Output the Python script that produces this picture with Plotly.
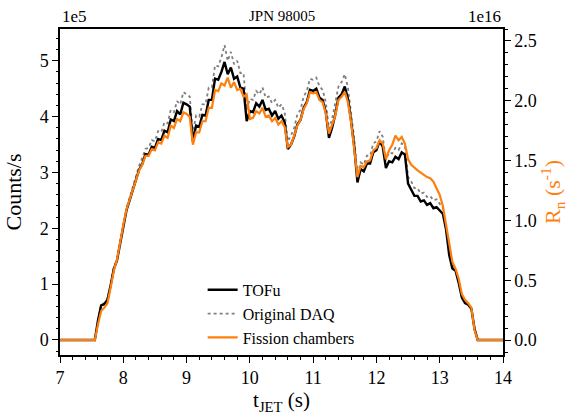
import plotly.graph_objects as go

# time grid (s): 7.55 .. 13.65 every 0.05 s, plus flat ends
t_active = [round(7.55 + 0.05 * i, 2) for i in range(123)]
time = [7.0] + t_active + [14.0]

# TOFu counts (x1e5 counts/s)
tofu = [
    0.00, 0.35, 0.62, 0.64, 0.72, 0.98, 1.27, 1.42, 1.74, 2.02,
    2.32, 2.50, 2.68, 2.83, 3.05, 3.15, 3.33, 3.32, 3.46, 3.44,
    3.60, 3.58, 3.75, 3.72, 3.95, 3.92, 4.10, 4.04, 4.25, 4.22,
    4.18, 3.55, 3.84, 3.82, 4.03, 4.02, 4.30, 4.30, 4.68, 4.66,
    4.80, 4.98, 4.76, 4.88, 4.68, 4.72, 4.52, 4.50, 3.92, 4.10,
    4.08, 4.24, 4.18, 4.30, 4.12, 4.14, 4.02, 4.10, 3.96, 4.02,
    3.90, 3.42, 3.50, 3.64, 3.86, 3.94, 4.16, 4.26, 4.48, 4.46,
    4.50, 4.34, 4.30, 4.08, 3.62, 3.80, 4.04, 4.34, 4.40, 4.54,
    4.32, 3.92, 3.46, 2.82, 3.06, 3.02, 3.16, 3.16, 3.36, 3.40,
    3.56, 3.46, 3.08, 3.20, 3.18, 3.28, 3.24, 3.36, 3.32, 2.80,
    2.70, 2.58, 2.58, 2.48, 2.50, 2.42, 2.45, 2.36, 2.38, 2.31,
    2.26, 1.98, 1.52, 1.28, 1.24, 1.02, 0.76, 0.66, 0.63, 0.56,
    0.20, 0.00, 0.00,
]

# Original DAQ counts (x1e5 counts/s)
daq = [
    0.00, 0.36, 0.63, 0.66, 0.74, 1.00, 1.30, 1.45, 1.78, 2.06,
    2.36, 2.56, 2.74, 2.92, 3.12, 3.26, 3.42, 3.44, 3.58, 3.56,
    3.74, 3.72, 3.90, 3.88, 4.12, 4.08, 4.28, 4.22, 4.44, 4.40,
    4.36, 3.70, 4.02, 4.00, 4.22, 4.22, 4.52, 4.52, 4.92, 4.90,
    5.06, 5.28, 5.00, 5.16, 4.94, 5.00, 4.78, 4.78, 4.12, 4.32,
    4.30, 4.46, 4.40, 4.52, 4.34, 4.36, 4.24, 4.30, 4.16, 4.22,
    4.08, 3.56, 3.66, 3.80, 4.04, 4.12, 4.36, 4.46, 4.68, 4.66,
    4.70, 4.54, 4.48, 4.26, 3.78, 3.96, 4.22, 4.54, 4.62, 4.76,
    4.52, 4.08, 3.60, 2.94, 3.18, 3.14, 3.30, 3.30, 3.52, 3.56,
    3.74, 3.64, 3.22, 3.36, 3.34, 3.44, 3.40, 3.52, 3.48, 2.92,
    2.84, 2.72, 2.72, 2.62, 2.64, 2.56, 2.58, 2.50, 2.52, 2.44,
    2.36, 2.04, 1.56, 1.32, 1.27, 1.05, 0.78, 0.68, 0.64, 0.57,
    0.21, 0.00, 0.00,
]

# Fission chambers neutron rate R_n (x1e16 s^-1)
fission = [
    0.000, 0.131, 0.243, 0.271, 0.308, 0.439, 0.579, 0.672, 0.831, 0.961,
    1.092, 1.176, 1.260, 1.325, 1.418, 1.465, 1.540, 1.540, 1.596, 1.586,
    1.652, 1.642, 1.708, 1.689, 1.792, 1.773, 1.848, 1.829, 1.904, 1.890,
    1.866, 1.633, 1.736, 1.736, 1.829, 1.829, 1.941, 1.941, 2.090, 2.081,
    2.146, 2.128, 2.193, 2.109, 2.156, 2.090, 2.100, 2.034, 2.053, 1.848,
    1.857, 1.913, 1.894, 1.941, 1.866, 1.876, 1.829, 1.857, 1.801, 1.829,
    1.782, 1.614, 1.633, 1.708, 1.792, 1.838, 1.932, 1.978, 2.072, 2.062,
    2.072, 2.006, 1.988, 1.894, 1.726, 1.801, 1.876, 2.006, 2.034, 2.072,
    1.988, 1.820, 1.586, 1.362, 1.456, 1.446, 1.493, 1.502, 1.586, 1.605,
    1.670, 1.642, 1.512, 1.586, 1.633, 1.708, 1.670, 1.698, 1.642, 1.512,
    1.465, 1.437, 1.418, 1.400, 1.381, 1.362, 1.353, 1.325, 1.269, 1.213,
    1.120, 0.961, 0.793, 0.653, 0.597, 0.513, 0.383, 0.336, 0.308, 0.271,
    0.084, 0.000, 0.000,
]

tofu_y = [0.0] + tofu + [0.0]
daq_y = [0.0] + daq + [0.0]
fission_y = [0.0] + fission + [0.0]

FONT = "Liberation Serif"
ORANGE = "#ff7f0e"
X_RANGE = [7, 14]
Y_RANGE = [-0.27, 5.57]
Y2_RANGE = [-0.125, 2.6]

fig = go.Figure()
fig.add_trace(go.Scatter(x=time, y=fission_y, name="Fission chambers", mode="lines",
                         line=dict(color=ORANGE, width=2.2), yaxis="y2"))
fig.add_trace(go.Scatter(x=time, y=daq_y, name="Original DAQ", mode="lines",
                         line=dict(color="#808080", width=1.8, dash="dot")))
fig.add_trace(go.Scatter(x=time, y=tofu_y, name="TOFu", mode="lines",
                         line=dict(color="black", width=2.4)))
# empty traces that only register the minor-tick axes
fig.add_trace(go.Scatter(x=[], y=[], xaxis="x2", yaxis="y3", showlegend=False,
                         hoverinfo="skip", mode="lines"))
fig.add_trace(go.Scatter(x=[], y=[], xaxis="x", yaxis="y4", showlegend=False,
                         hoverinfo="skip", mode="lines"))


def axis_style(**kw):
    d = dict(showgrid=False, zeroline=False, showline=True, linecolor="black",
             linewidth=1.5, ticks="outside", ticklen=6, tickwidth=1.2, automargin=False,
             tickcolor="black", tickfont=dict(family=FONT, size=18, color="black"))
    d.update(kw)
    return d


def minor_style(**kw):
    d = dict(showgrid=False, zeroline=False, showline=False, showticklabels=False,
             ticks="outside", ticklen=3.5, tickwidth=1, tickcolor="black", automargin=False)
    d.update(kw)
    return d


fig.update_layout(
    width=568, height=418,
    margin=dict(l=60, r=65, t=29, b=63),
    paper_bgcolor="white", plot_bgcolor="white",
    showlegend=True,
    legend=dict(x=0.322, y=0.252, xanchor="left", yanchor="top",
                bgcolor="rgba(0,0,0,0)", traceorder="reversed",
                font=dict(family=FONT, size=16, color="black")),
    xaxis=axis_style(range=X_RANGE, dtick=1, mirror=True,
                     title=dict(text="t<sub>JET</sub> (s)", standoff=4,
                                font=dict(family=FONT, size=21, color="black"))),
    yaxis=axis_style(range=Y_RANGE, dtick=1,
                     title=dict(text="Counts/s", standoff=12,
                                font=dict(family=FONT, size=22, color="black"))),
    yaxis2=axis_style(range=Y2_RANGE, dtick=0.5, tickformat=".1f", overlaying="y", side="right",
                      title=dict(text="R<sub>n</sub> (s<sup>-1</sup>)",
                                 font=dict(family=FONT, size=22, color=ORANGE))),
    # minor tick axes
    xaxis2=minor_style(range=X_RANGE, dtick=0.2, tick0=7, overlaying="x", side="bottom", anchor="y"),
    yaxis3=minor_style(range=Y_RANGE, dtick=0.2, tick0=0, overlaying="y", side="left", anchor="x"),
    yaxis4=minor_style(range=Y2_RANGE, dtick=0.1, tick0=0, overlaying="y", side="right", anchor="x"),
    annotations=[
        dict(text="JPN 98005", x=0.5, y=1.0, xref="paper", yref="paper", xanchor="center",
             yanchor="bottom", yshift=3, showarrow=False, font=dict(family=FONT, size=15, color="black")),
        dict(text="1e5", x=0.0, y=1.0, xref="paper", yref="paper", xanchor="left",
             yanchor="bottom", yshift=1, showarrow=False, font=dict(family=FONT, size=17, color="black")),
        dict(text="1e16", x=1.0, y=1.0, xref="paper", yref="paper", xanchor="right",
             yanchor="bottom", yshift=1, showarrow=False, font=dict(family=FONT, size=17, color="black")),
    ],
)

fig.write_html("out.html")
